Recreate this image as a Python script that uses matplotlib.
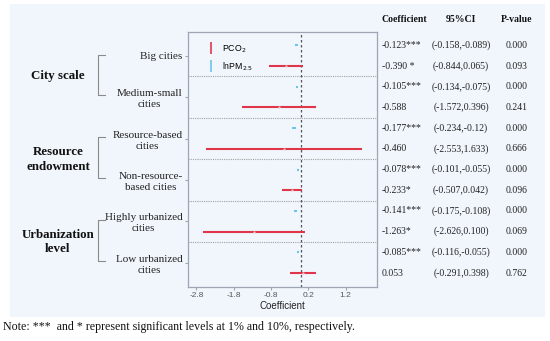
import matplotlib
matplotlib.use("Agg")
import matplotlib.pyplot as plt
import matplotlib.transforms as mtransforms
from matplotlib.lines import Line2D
from matplotlib.patches import Rectangle

# subgroups and group labels
categories = ["Big cities", "Medium-small\ncities", "Resource-based\ncities",
              "Non-resource-\nbased cities", "Highly urbanized\ncities", "Low urbanized\ncities"]
groups = ["City scale", "Resource\nendowment", "Urbanization\nlevel"]

# lnPM2.5 estimates
pm_coef = [-0.123, -0.105, -0.177, -0.078, -0.141, -0.085]
pm_lo = [-0.158, -0.134, -0.234, -0.101, -0.175, -0.116]
pm_hi = [-0.089, -0.075, -0.120, -0.055, -0.108, -0.055]
pm_coef_txt = ["-0.123***", "-0.105***", "-0.177***", "-0.078***", "-0.141***", "-0.085***"]
pm_ci_txt = ["(-0.158,-0.089)", "(-0.134,-0.075)", "(-0.234,-0.12)",
             "(-0.101,-0.055)", "(-0.175,-0.108)", "(-0.116,-0.055)"]
pm_p_txt = ["0.000", "0.000", "0.000", "0.000", "0.000", "0.000"]

# PCO2 estimates
co2_coef = [-0.390, -0.588, -0.460, -0.233, -1.263, 0.053]
co2_lo = [-0.844, -1.572, -2.553, -0.507, -2.626, -0.291]
co2_hi = [0.065, 0.396, 1.633, 0.042, 0.100, 0.398]
co2_coef_txt = ["-0.390 *", "-0.588", "-0.460", "-0.233*", "-1.263*", "0.053"]
co2_ci_txt = ["(-0.844,0.065)", "(-1.572,0.396)", "(-2.553,1.633)",
              "(-0.507,0.042)", "(-2.626,0.100)", "(-0.291,0.398)"]
co2_p_txt = ["0.093", "0.241", "0.666", "0.096", "0.069", "0.762"]

xticks = [-2.8, -1.8, -0.8, 0.2, 1.2]

RED = "#e0364a"
BLUE = "#6cc4ec"
BG = "#f1f6fc"
SERIF = ["Liberation Serif", "DejaVu Serif"]
SANS = ["Liberation Sans", "DejaVu Sans"]

W, H = 550, 341
fig = plt.figure(figsize=(W / 100, H / 100), dpi=100)
fig.patch.set_facecolor("white")
fig.patches.append(Rectangle((10 / W, 1 - 317 / H), 535 / W, 313 / H,
                             transform=fig.transFigure, facecolor=BG,
                             edgecolor="none", zorder=-5))

ax = fig.add_axes([188 / W, 1 - 286.7 / H, 188.7 / W, 255 / H])
ax.set_facecolor(BG)

n = len(categories)
for i in range(n):
    y_pm = 2 * i + 0.5
    y_co = 2 * i + 1.5
    ax.plot([pm_lo[i], pm_hi[i]], [y_pm, y_pm], color=BLUE, lw=1.5,
            solid_capstyle="butt", zorder=3)
    ax.plot([co2_lo[i], co2_hi[i]], [y_co, y_co], color=RED, lw=1.5,
            solid_capstyle="butt", zorder=3)
    ax.plot(co2_coef[i], y_co, marker="o", ms=1.6, color="#f6c6cc",
            mec="none", zorder=4)

for b in range(2, 2 * n, 2):
    ax.axhline(b, color="#a0a0a0", lw=0.8, ls=(0, (1, 1)), zorder=1)
ax.axvline(0, color="#555555", lw=0.9, ls=(0, (2, 2)), zorder=2)

ax.set_xlim(-3.025, 2.034)
ax.set_ylim(12.16, -0.16)
ax.set_xticks(xticks)
ax.set_xticklabels([f"{t:.1f}" for t in xticks], fontsize=6, color="#555555",
                   family=SANS)
ax.set_yticks([2 * i + 1 for i in range(n)])
ax.set_yticklabels(categories, fontsize=8, family=SERIF, color="#222222",
                   multialignment="center", linespacing=1.3)
ax.tick_params(axis="both", length=2, width=0.8, color="#9ea6b4", pad=2)
ax.set_xlabel("Coefficient", fontsize=7, family=SANS, color="#222222", labelpad=1)
for s in ax.spines.values():
    s.set_color("#9ea6b4")
    s.set_linewidth(0.9)

handles = [Line2D([], [], color=RED, marker="|", ls="None", ms=8, mew=1.2),
           Line2D([], [], color=BLUE, marker="|", ls="None", ms=8, mew=1.2)]
ax.legend(handles, ["PCO$_2$", "lnPM$_{2.5}$"], loc="upper left",
          bbox_to_anchor=(0.06, 0.985), frameon=False, handlelength=0.8,
          handletextpad=0.9, labelspacing=0.6, prop={"family": SANS, "size": 6.3})

# table on the right, rows tied to the axis rows
tr = mtransforms.blended_transform_factory(fig.transFigure, ax.transData)
for i in range(n):
    for y, c, ci, p in [(2 * i + 0.5, pm_coef_txt[i], pm_ci_txt[i], pm_p_txt[i]),
                        (2 * i + 1.5, co2_coef_txt[i], co2_ci_txt[i], co2_p_txt[i])]:
        fig.text(382 / W, y, c, transform=tr, fontsize=7, family=SERIF,
                 ha="left", va="center", color="#222222")
        fig.text(461 / W, y, ci, transform=tr, fontsize=7, family=SERIF,
                 ha="center", va="center", color="#222222")
        fig.text(516.7 / W, y, p, transform=tr, fontsize=7, family=SERIF,
                 ha="center", va="center", color="#222222")

for x, label, ha in [(382 / W, "Coefficient", "left"), (461 / W, "95%CI", "center"),
                     (516.7 / W, "P-value", "center")]:
    fig.text(x, 1 - 19 / H, label, fontsize=7, family=SERIF, weight="bold",
             ha=ha, va="center", color="#111111")

# group labels with brackets
for g, label in enumerate(groups):
    yc = 4 * g + 2
    fig.text(58 / W, yc, label, transform=tr, fontsize=9.3, family=SERIF,
             weight="bold", ha="center", va="center", ma="center",
             linespacing=1.3, color="#111111")
    top, bot = 4 * g + 1 - 0.05, 4 * g + 3 - 0.1
    fig.add_artist(Line2D([105 / W, 98 / W, 98 / W, 105 / W], [top, top, bot, bot],
                          transform=tr, color="#8a8a8a", lw=0.8))

fig.text(3 / W, 1 - 327 / H,
         "Note: ***  and * represent significant levels at 1% and 10%, respectively.",
         fontsize=8.6, family=SERIF, ha="left", va="center", color="#111111")

fig.savefig("out.png", dpi=100)
